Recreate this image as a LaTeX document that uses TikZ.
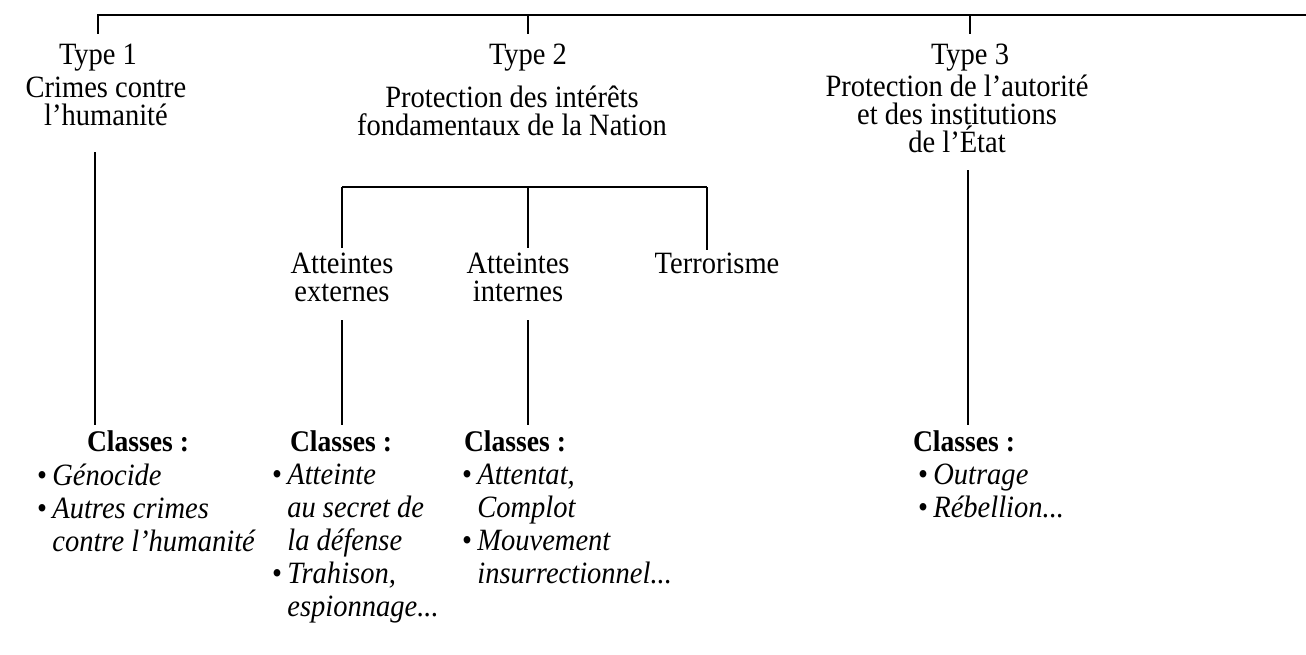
\documentclass[tikz,border=0pt]{standalone}
\usepackage{fontspec}
\setmainfont{Liberation Serif}[FakeStretch=0.92]
\begin{document}
\begin{tikzpicture}[x=1pt,y=-1pt,
  lbl/.style={inner sep=0pt, align=center, font=\fontsize{31}{28}\selectfont},
  cls/.style={inner sep=0pt, font=\fontsize{30}{30}\selectfont\bfseries},
  lst/.style={inner sep=0pt, anchor=north west, align=left, font=\fontsize{31}{33}\selectfont},
  ln/.style={line width=1.2pt}]
\useasboundingbox (0,0) rectangle (1306,654);
% top level
\coordinate (tr) at (1306,15);
\node[lbl] (t1) at (98,58) {Type 1};
\node[lbl] (t2) at (528,58) {Type 2};
\node[lbl] (t3) at (970,58) {Type 3};
\draw[ln] (tr) -| ([yshift=10pt]t1.north);
\draw[ln] (t2.north |- tr) -- ([yshift=10pt]t2.north);
\draw[ln] (t3.north |- tr) -- ([yshift=10pt]t3.north);
\node[lbl] (d1) at (106,101) {Crimes contre\\l’humanité};
\node[lbl] (d2) at (512,111) {Protection des intérêts\\fondamentaux de la Nation};
\node[lbl] (d3) at (957,114) {Protection de l’autorité\\et des institutions\\de l’État};
% type 2 sub bracket
\coordinate (b1) at (342,187);
\coordinate (b2) at (528,187);
\coordinate (b3) at (707,187);
\node[lbl] (a1) at (342,277) {Atteintes\\externes};
\node[lbl] (a2) at (518,277) {Atteintes\\internes};
\node[lbl] (a3) at (717,263) {Terrorisme};
\draw[ln] (b1) -- (b3);
\draw[ln] (b1) -- (342,248) coordinate (b1e);
\draw[ln] (b2) -- (528,248) coordinate (b2e);
\draw[ln] (b3) -- (707,250) coordinate (b3e);
% classes
\node[cls] (c1) at (138,441) {Classes :};
\node[cls] (c2) at (341,441) {Classes :};
\node[cls] (c3) at (515,441) {Classes :};
\node[cls] (c4) at (964,441) {Classes :};
% verticals
\coordinate (v1a) at (95,152);  \coordinate (v1b) at (95,425);
\coordinate (v2a) at (342,320); \coordinate (v2b) at (342,425);
\coordinate (v3a) at (528,320); \coordinate (v3b) at (528,425);
\coordinate (v4a) at (968,170); \coordinate (v4b) at (968,425);
\draw[ln] (v1a) -- (v1b);
\draw[ln] (v2a) -- (v2b);
\draw[ln] (v3a) -- (v3b);
\draw[ln] (v4a) -- (v4b);
% lists
\node[lst] (l1) at (37,464) {\textbullet\,\textit{Génocide}\\\textbullet\,\textit{Autres crimes}\\\phantom{\textbullet\,}\textit{contre l’humanité}};
\node[lst] (l2) at (272,464) {\textbullet\,\textit{Atteinte}\\\phantom{\textbullet\,}\textit{au secret de}\\\phantom{\textbullet\,}\textit{la défense}\\\textbullet\,\textit{Trahison,}\\\phantom{\textbullet\,}\textit{espionnage...}};
\node[lst] (l3) at (462,464) {\textbullet\,\textit{Attentat,}\\\phantom{\textbullet\,}\textit{Complot}\\\textbullet\,\textit{Mouvement}\\\phantom{\textbullet\,}\textit{insurrectionnel...}};
\node[lst] (l4) at (918,464) {\textbullet\,\textit{Outrage}\\\textbullet\,\textit{Rébellion...}};
\end{tikzpicture}
\end{document}
